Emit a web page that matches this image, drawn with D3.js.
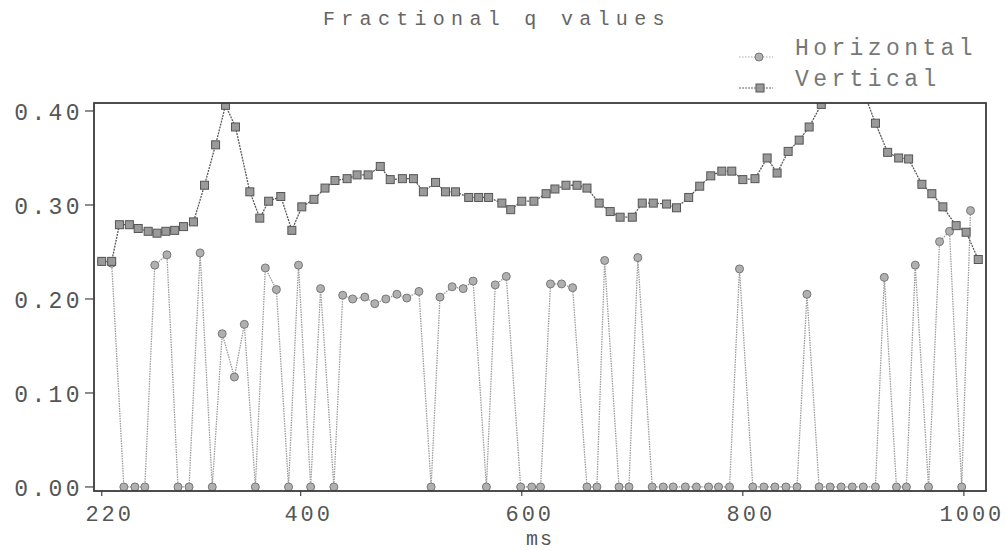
<!DOCTYPE html>
<html><head><meta charset="utf-8">
<script src="https://cdn.jsdelivr.net/npm/d3@7"></script>
<style>
html,body{margin:0;padding:0;background:#fff;}
svg text{font-family:"Liberation Mono","Courier New",monospace;fill:#555;}
</style></head>
<body><svg id="c" width="1007" height="550"></svg>
<script>
// ---- data ----
const title = "Fractional q values";
const xLabel = "ms";
const seriesNames = ["Horizontal", "Vertical"];
const xTicks = [220, 400, 600, 800, 1000];
const yTicks = [0.00, 0.10, 0.20, 0.30, 0.40];

const horizMs = [220,229,240,250,259,268,279,289,299,309,320,329,340,349,359,368,378,389,398,409,
  418,430,438,447,458,467,477,487,496,507,518,526,537,547,556,568,576,586,599,609,
  617,626,636,646,659,668,675,688,697,705,718,728,737,748,758,769,778,788,797,809,
  819,829,839,849,858,869,879,889,899,909,920,928,939,948,956,968,978,987,998,1006];
const horizQ = [0.240,0.238,0,0,0,0.236,0.247,0,0,0.249,0,0.163,0.117,0.173,0,0.233,0.210,0,0.236,0,
  0.211,0,0.204,0.200,0.202,0.195,0.200,0.205,0.201,0.208,0,0.202,0.213,0.211,0.219,0,0.215,0.224,0,0,
  0,0.216,0.216,0.212,0,0,0.241,0,0,0.244,0,0,0,0,0,0,0,0,0.232,0,
  0,0,0,0,0.205,0,0,0,0,0,0,0.223,0,0,0.236,0,0.261,0.272,0,0.294];

const vertMs = [220,229,236,245,253,262,270,278,286,294,303,313,323,332,341,354,363,371,382,392,
  401,412,422,431,442,451,461,472,481,492,502,511,522,531,540,552,561,570,582,590,
  600,611,622,630,640,650,659,670,680,689,700,709,719,731,740,751,761,771,781,790,
  800,811,822,831,841,851,860,871,881,891,901,910,920,931,941,950,962,971,981,993,1002,1013];
const vertQ = [0.240,0.240,0.279,0.279,0.275,0.272,0.270,0.272,0.273,0.277,0.282,0.321,0.364,0.406,0.383,0.314,0.286,0.304,0.309,0.273,
  0.298,0.306,0.318,0.326,0.328,0.332,0.332,0.341,0.327,0.328,0.328,0.314,0.324,0.314,0.314,0.308,0.308,0.308,0.302,0.295,
  0.304,0.304,0.312,0.317,0.321,0.321,0.318,0.302,0.293,0.287,0.287,0.302,0.302,0.301,0.297,0.308,0.320,0.331,0.336,0.336,
  0.327,0.328,0.350,0.334,0.357,0.369,0.383,0.407,0.425,0.435,0.430,0.418,0.387,0.356,0.350,0.349,0.322,0.312,0.298,0.278,0.271,0.242];

// ---- chart ----
const svg = d3.select("#c");
const L = 94, R = 986, T = 103, B = 491;
const x = d3.scaleLinear().domain([213, 1020]).range([L, R]);
const y = d3.scaleLinear().domain([-0.0043, 0.4085]).range([B, T]);

svg.append("defs").append("clipPath").attr("id","clip")
  .append("rect").attr("x",L).attr("y",T).attr("width",R-L).attr("height",B-T);

// title
svg.append("text").attr("x",323).attr("y",25).style("font-size","20px")
  .style("letter-spacing","6.3px").style("fill","#666").text(title);

// legend
const leg = svg.append("g");
[[57,0],[88,1]].forEach(([ly,i])=>{
  leg.append("line").attr("x1",739).attr("x2",773).attr("y1",ly).attr("y2",ly)
    .attr("stroke", i===0?"#aaa":"#666").attr("stroke-width",1.2)
    .attr("stroke-dasharray", i===0?"1.5,1.5":"2,1");
  if(i===0) leg.append("circle").attr("cx",759).attr("cy",ly).attr("r",4)
      .attr("fill","#b0b0b0").attr("stroke","#777").attr("stroke-width",1);
  else leg.append("rect").attr("x",756).attr("y",ly-4).attr("width",8).attr("height",8)
      .attr("fill","#9a9a9a").attr("stroke","#555").attr("stroke-width",1);
  leg.append("text").attr("x",795).attr("y",ly-2).style("font-size","23px")
    .style("letter-spacing","4.4px").style("fill","#777").text(seriesNames[i]);
});

// axes ticks
const yAxis = svg.append("g");
yTicks.forEach(t=>{
  yAxis.append("line").attr("x1",L-9).attr("x2",L).attr("y1",y(t)).attr("y2",y(t))
    .attr("stroke","#444").attr("stroke-width",1.2);
  yAxis.append("text").attr("x",83).attr("y",y(t)+9).attr("text-anchor","end")
    .style("font-size","23px").style("letter-spacing","3.4px").text(d3.format(".2f")(t));
});
const xAxis = svg.append("g");
xTicks.forEach(t=>{
  xAxis.append("line").attr("x1",x(t)).attr("x2",x(t)).attr("y1",B).attr("y2",B+5)
    .attr("stroke","#444").attr("stroke-width",1.2);
  xAxis.append("text").attr("x",x(t)+8).attr("y",521).attr("text-anchor","middle")
    .style("font-size","22px").style("letter-spacing","3px").text(t);
});
svg.append("text").attr("x",540).attr("y",545).attr("text-anchor","middle")
  .style("font-size","20px").style("letter-spacing","2px").text(xLabel);

// plot
const plot = svg.append("g").attr("clip-path","url(#clip)");
const hData = horizMs.map((m,i)=>[m,horizQ[i]]);
const vData = vertMs.map((m,i)=>[m,vertQ[i]]);
const line = d3.line().x(d=>x(d[0])).y(d=>y(d[1]));

plot.append("path").datum(hData).attr("d",line).attr("fill","none")
  .attr("stroke","#9c9c9c").attr("stroke-width",1.3).attr("stroke-dasharray","1.5,1");
plot.append("path").datum(vData).attr("d",line).attr("fill","none")
  .attr("stroke","#5a5a5a").attr("stroke-width",1.3).attr("stroke-dasharray","2,1");

plot.selectAll("circle.h").data(hData).join("circle").attr("class","h")
  .attr("cx",d=>x(d[0])).attr("cy",d=>y(d[1])).attr("r",4)
  .attr("fill","#b0b0b0").attr("stroke","#777").attr("stroke-width",1);
plot.selectAll("rect.v").data(vData).join("rect").attr("class","v")
  .attr("x",d=>x(d[0])-4).attr("y",d=>y(d[1])-4).attr("width",8).attr("height",8)
  .attr("fill","#9a9a9a").attr("stroke","#555").attr("stroke-width",1);

// frame
svg.append("rect").attr("x",L).attr("y",T).attr("width",R-L).attr("height",B-T)
  .attr("fill","none").attr("stroke","#3a3a3a").attr("stroke-width",1.8);
</script></body></html>
